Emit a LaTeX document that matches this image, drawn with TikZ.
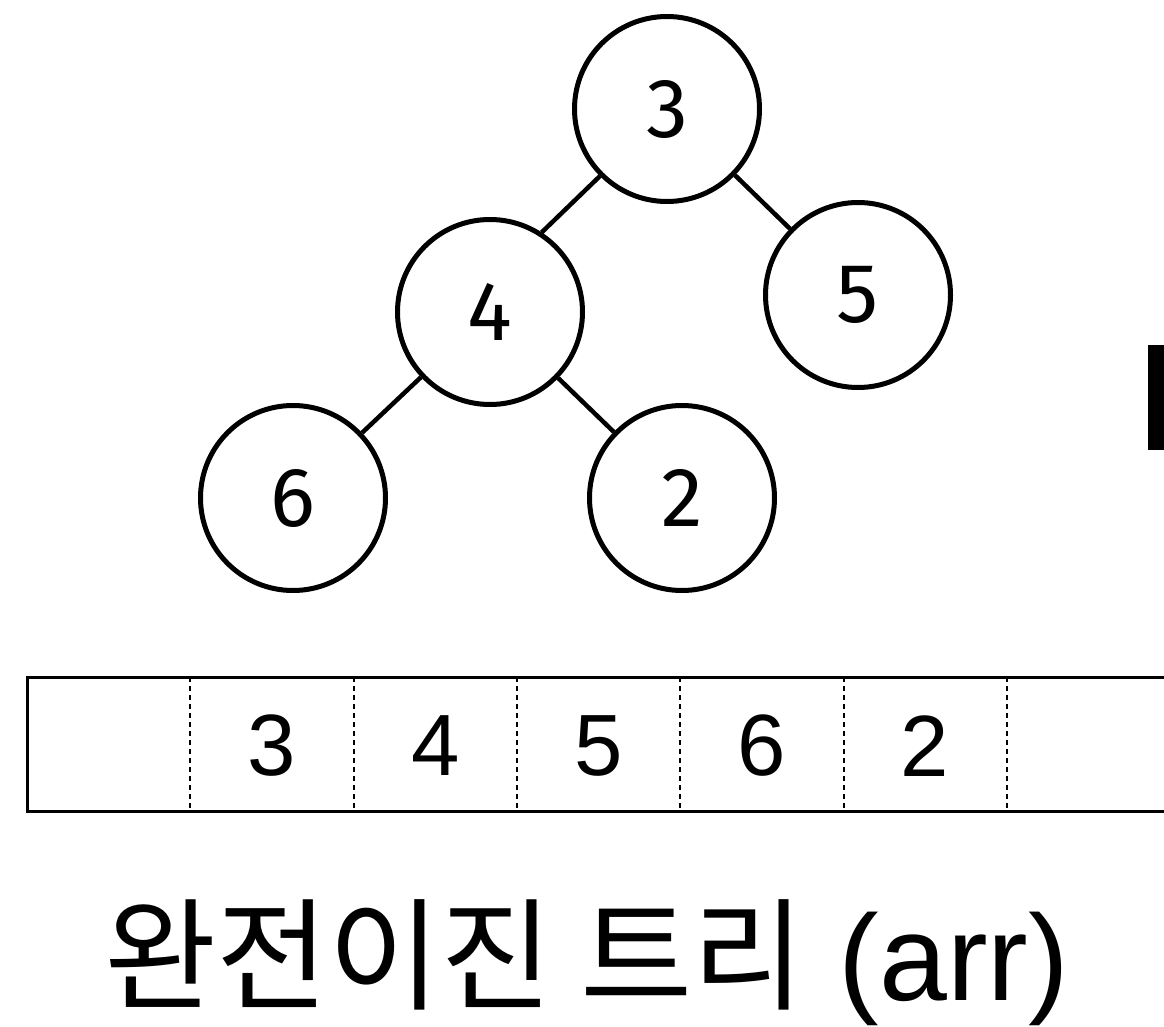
\documentclass[tikz,border=0pt]{standalone}
\usepackage{fontspec}
\setmainfont{Liberation Sans}
\newfontfamily\treefont{Fira Sans}
\newfontfamily\kofont{Noto Sans CJK KR}

\begin{document}
\begin{tikzpicture}[x=1pt, y=-1pt,
		vertex/.style={circle, draw=black, line width=5pt, minimum size=185pt, inner sep=0pt, font=\treefont\fontsize{84}{90}\selectfont},
		edge/.style={black, line width=4.5pt},
		cellline/.style={black, line width=3pt},
		sepline/.style={black, line width=2pt, dash pattern=on 5pt off 4pt},
		cellnum/.style={inner sep=0pt, font=\fontsize{87}{90}\selectfont}
		]
		\useasboundingbox (0,0) rectangle (1164,1027);
		
		% 트리 노드
		\node[vertex] (n3) at (667,109) {3};
		\node[vertex] (n4) at (490,312) {4};
		\node[vertex] (n5) at (858,295) {5};
		\node[vertex] (n6) at (293,498) {6};
		\node[vertex] (n2) at (682,498) {2};
		
		% 간선
		\draw[edge] (n3.225) -- (n4.57);
		\draw[edge] (n3) -- (n5);
		\draw[edge] (n4) -- (n6);
		\draw[edge] (n4) -- (n2);
		
		% 배열
		\draw[cellline] (1164,677) -- (27,677) -- (27,811) -- (1164,811);
		\foreach \i in {1,...,6}
			\draw[sepline] ({27+163.3*\i},677) -- ({27+163.3*\i},811);
		\foreach \v [count=\k] in {3,4,5,6,2}
			\node[cellnum] (a\k) at ({27+163.3*\k+81.65},746) {\v};
		
		% 오른쪽 막대
		\fill[black] (1148,345) rectangle (1164,450);
		
		% 제목
		\node[anchor=base west, inner sep=0pt, font=\fontsize{122}{130}\selectfont] (title) at (104,1000) {{\kofont 완전이진 트리} (arr)};
		
	\end{tikzpicture}
\end{document}
